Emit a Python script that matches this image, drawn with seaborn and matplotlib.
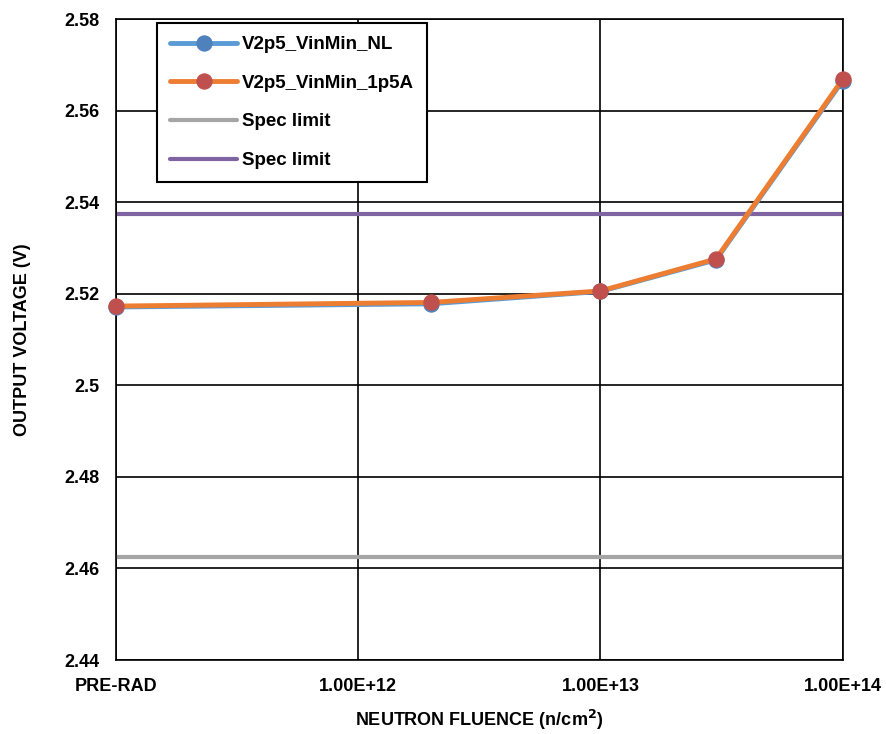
import matplotlib
matplotlib.use('Agg')
import matplotlib.pyplot as plt
import pandas as pd
import seaborn as sns
from matplotlib.ticker import FixedLocator, NullLocator

# fluence points (PRE-RAD plotted at 1e11)
fluence = [1e11, 2e12, 1e13, 3e13, 1e14]
v_nl = [2.5171, 2.5178, 2.5205, 2.5274, 2.5665]
v_1p5a = [2.5173, 2.5181, 2.5206, 2.5276, 2.5668]
spec_low = 2.4625
spec_high = 2.5375

x_ticks = [1e11, 1e12, 1e13, 1e14]
x_labels = ['PRE-RAD', '1.00E+12', '1.00E+13', '1.00E+14']
y_ticks = [2.44, 2.46, 2.48, 2.5, 2.52, 2.54, 2.56, 2.58]
y_labels = ['2.44', '2.46', '2.48', '2.5', '2.52', '2.54', '2.56', '2.58']

df = pd.DataFrame({
    'fluence': fluence * 2,
    'voltage': v_nl + v_1p5a,
    'series': ['V2p5_VinMin_NL'] * 5 + ['V2p5_VinMin_1p5A'] * 5,
})

sns.set_style('white')
plt.rcParams['font.family'] = ['Liberation Sans', 'DejaVu Sans']
plt.rcParams['font.weight'] = 'bold'
plt.rcParams['text.color'] = 'black'
plt.rcParams['axes.labelcolor'] = 'black'
plt.rcParams['xtick.color'] = 'black'
plt.rcParams['ytick.color'] = 'black'

fig = plt.figure(figsize=(8.86, 7.34), dpi=100)
ax = fig.add_axes([0.131, 0.1008, 0.82, 0.8733])

# spec limit lines
ax.axhline(spec_low, color='#A5A5A5', lw=3, label='Spec limit', zorder=2)
ax.axhline(spec_high, color='#8064A2', lw=3, label='Spec limit', zorder=2)

sns.lineplot(data=df[df.series == 'V2p5_VinMin_NL'], x='fluence', y='voltage',
             ax=ax, color='#5B9BD5', lw=3.5, marker='o', markersize=11,
             markerfacecolor='#4F81BD', markeredgecolor='#4F81BD',
             label='V2p5_VinMin_NL', zorder=3, clip_on=False)
sns.lineplot(data=df[df.series == 'V2p5_VinMin_1p5A'], x='fluence', y='voltage',
             ax=ax, color='#ED7D31', lw=3.5, marker='o', markersize=11,
             markerfacecolor='#C0504D', markeredgecolor='#C0504D',
             label='V2p5_VinMin_1p5A', zorder=4, clip_on=False)

ax.set_xscale('log')
ax.set_xlim(1e11, 1e14)
ax.set_ylim(2.44, 2.58)
ax.xaxis.set_major_locator(FixedLocator(x_ticks))
ax.xaxis.set_minor_locator(NullLocator())
ax.set_xticklabels(x_labels)
ax.set_yticks(y_ticks)
ax.set_yticklabels(y_labels)
ax.grid(True, color='black', lw=1.2)
ax.set_axisbelow(True)
for s in ax.spines.values():
    s.set_color('black')
    s.set_linewidth(1.2)
ax.tick_params(axis='x', length=0, pad=13, labelsize=13)
ax.tick_params(axis='y', length=0, pad=12, labelsize=13)

ax.set_xlabel('NEUTRON FLUENCE (n/cm$^\\mathbf{2}$)', fontsize=13, fontweight='bold', labelpad=9)
ax.set_ylabel('OUTPUT VOLTAGE (V)', fontsize=13, fontweight='bold', labelpad=24)

handles, labels = ax.get_legend_handles_labels()
order = [labels.index('V2p5_VinMin_NL'), labels.index('V2p5_VinMin_1p5A'), 0, 1]
leg = ax.legend([handles[i] for i in order], [labels[i] for i in order],
                loc='upper left', bbox_to_anchor=(0.056, 0.994),
                prop={'weight': 'bold', 'size': 13.5}, handlelength=3.6,
                labelspacing=1.15, borderpad=0.7, handletextpad=0.25,
                borderaxespad=0, fancybox=False, framealpha=1, edgecolor='black')
leg.get_frame().set_linewidth(1.5)

fig.savefig('out.png', dpi=100)
